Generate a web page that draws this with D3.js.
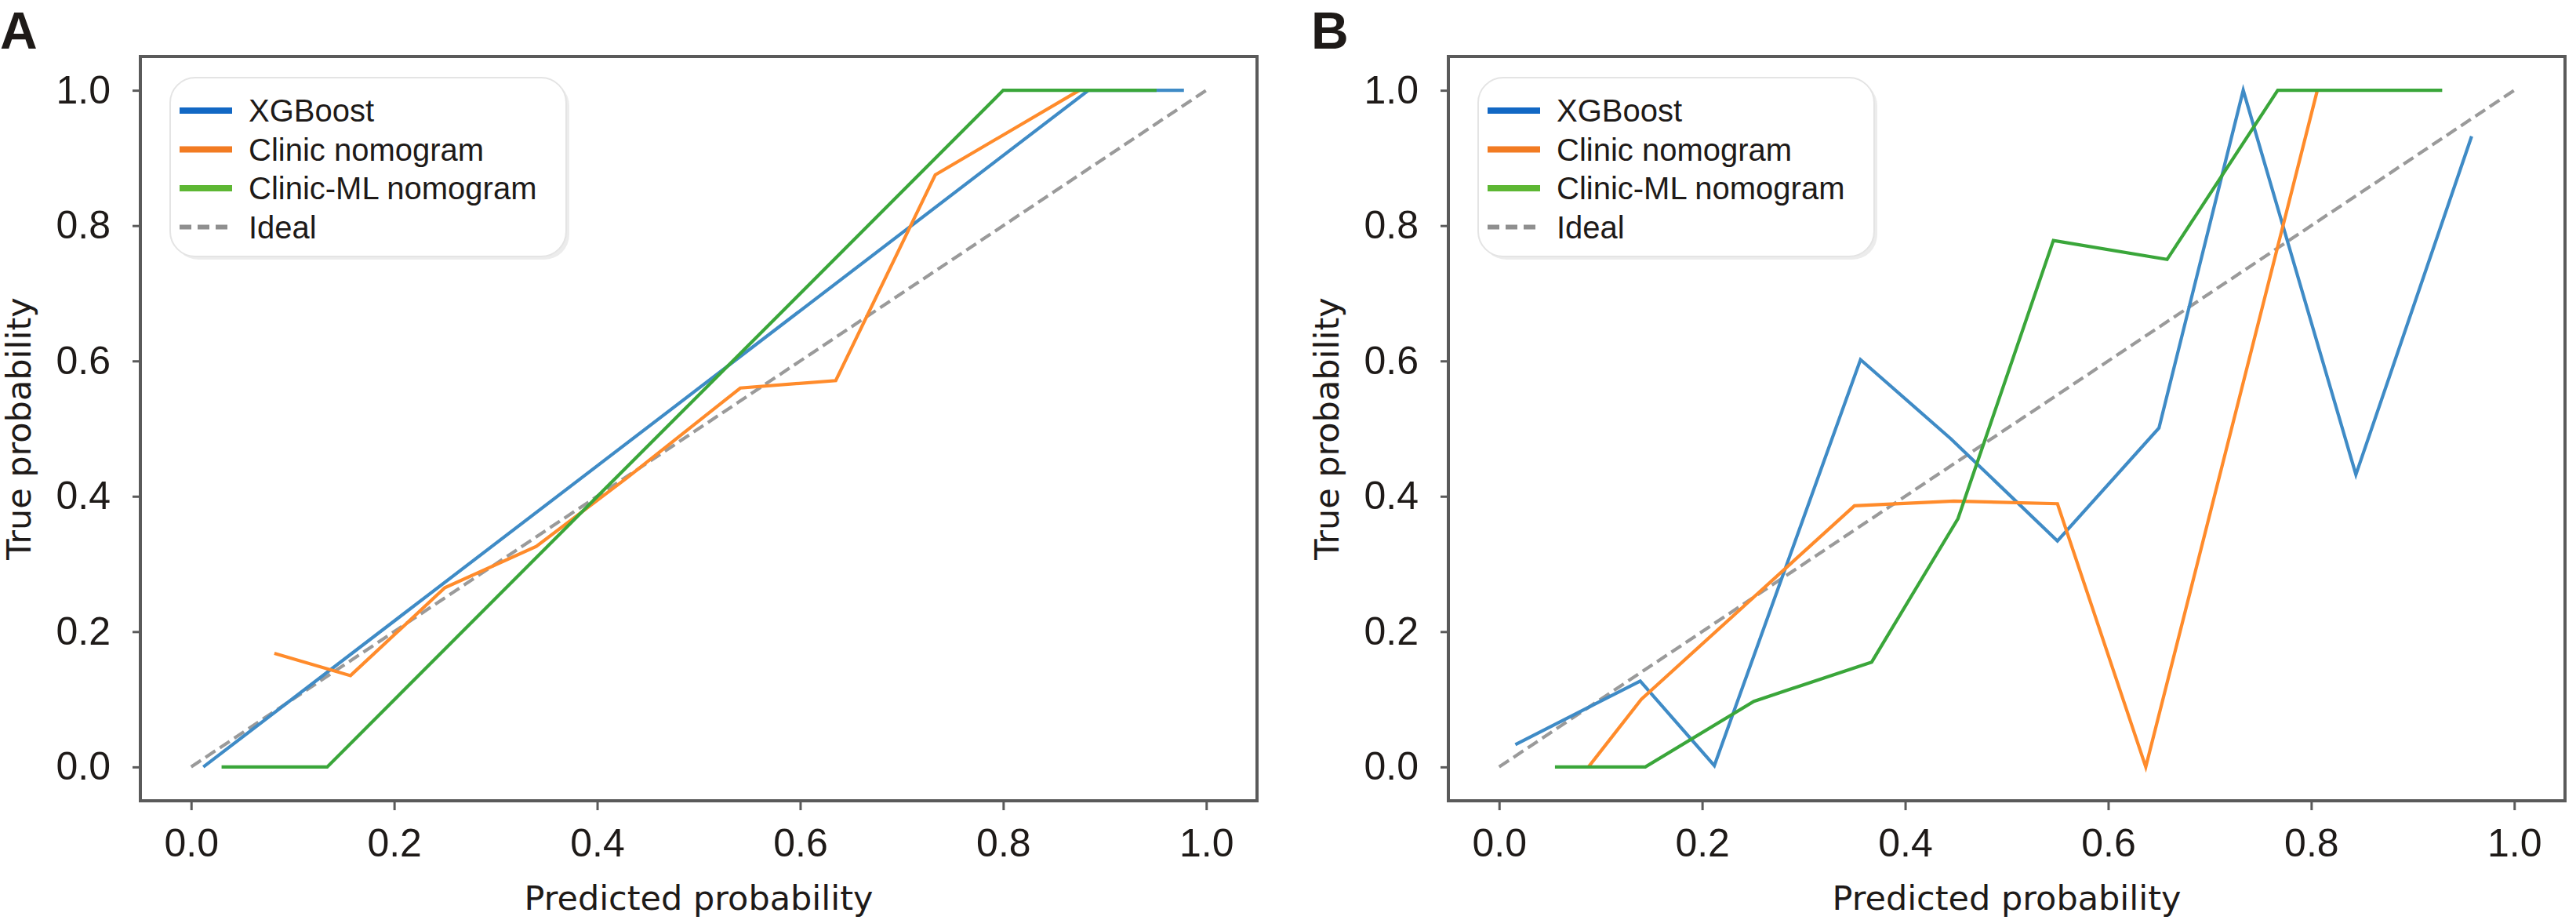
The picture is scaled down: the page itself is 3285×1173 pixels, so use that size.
<!DOCTYPE html>
<html>
<head>
<meta charset="utf-8">
<script src="https://cdn.jsdelivr.net/npm/d3@7"></script>
<style>
  body { margin: 0; background: #fff; }
  svg { display: block; }
</style>
</head>
<body>
<svg id="chart"></svg>
<script>
// calibration curves
const panels = ["A", "B"];
const seriesNames = ["XGBoost", "Clinic nomogram", "Clinic-ML nomogram"];
const ticks = [0, 0.2, 0.4, 0.6, 0.8, 1.0];

// panel A
const xgboostA = [[0.012, 0.0], [0.884, 1.0], [0.978, 1.0]];
const clinicA = [[0.082, 0.168], [0.157, 0.135], [0.25, 0.265], [0.34, 0.326], [0.43, 0.428],
    [0.541, 0.56], [0.635, 0.571], [0.733, 0.875], [0.875, 1.0]];
const clinicMlA = [[0.03, 0.0], [0.134, 0.0], [0.8, 1.0], [0.951, 1.0]];

// panel B
const xgboostB = [[0.016, 0.033], [0.139, 0.127], [0.212, 0.002], [0.356, 0.602], [0.445, 0.485],
    [0.55, 0.334], [0.65, 0.501], [0.733, 1.0], [0.844, 0.432], [0.958, 0.932]];
const clinicB = [[0.088, 0.0], [0.14, 0.1], [0.35, 0.386], [0.448, 0.393], [0.55, 0.389],
    [0.637, 0.0], [0.806, 1.0]];
const clinicMlB = [[0.055, 0.0], [0.144, 0.0], [0.251, 0.097], [0.367, 0.155], [0.452, 0.367],
    [0.546, 0.778], [0.658, 0.75], [0.767, 1.0], [0.929, 1.0]];

const ideal = [[0, 0], [1, 1]];

const panelSeries = [
    [xgboostA, clinicA, clinicMlA],
    [xgboostB, clinicB, clinicMlB]
];

const width = 3285;
const height = 1173;

const lineColors = ["#3f8bc6", "#ff8b2b", "#3aa63a"];
const legendColors = ["#1268c4", "#f27b22", "#5db733"];
const textColor = "#1e1a18";
const frameColor = "#5a5a5a";

const svg = d3.select("#chart")
    .attr("width", width)
    .attr("height", height);

svg.append("rect")
    .attr("width", width)
    .attr("height", height)
    .attr("fill", "#fff");

const axesLeft = [179, 1847];
const axesTop = 72;
const axesW = 1424;
const axesH = 949;

panels.forEach((label, p) => {
    const left = axesLeft[p];

    const x = d3.scaleLinear()
        .domain([-0.05, 1.05])
        .range([left, left + axesW]);
    const y = d3.scaleLinear()
        .domain([-0.05, 1.05])
        .range([axesTop + axesH, axesTop]);

    const g = svg.append("g");

    // ticks and labels
    const xAxis = g.append("g")
        .attr("transform", `translate(0,${axesTop + axesH})`)
        .call(d3.axisBottom(x).tickValues(ticks).tickFormat(d3.format(".1f")).tickSize(12).tickPadding(23));
    const yAxis = g.append("g")
        .attr("transform", `translate(${left},0)`)
        .call(d3.axisLeft(y).tickValues(ticks).tickFormat(d3.format(".1f")).tickSize(10).tickPadding(28));

    [xAxis, yAxis].forEach(ax => {
        ax.select(".domain").remove();
        ax.selectAll("line").attr("stroke", frameColor).attr("stroke-width", 3);
        ax.selectAll("text")
            .attr("fill", textColor)
            .style("font-family", "'Liberation Sans', Arial, sans-serif")
            .style("font-size", "50px");
    });

    // ideal diagonal
    const line = d3.line()
        .x(d => x(d[0]))
        .y(d => y(d[1]));

    g.append("path")
        .datum(ideal)
        .attr("d", line)
        .attr("fill", "none")
        .attr("stroke", "#9a9a9a")
        .attr("stroke-width", 4.2)
        .attr("stroke-dasharray", "15,7");

    panelSeries[p].forEach((s, i) => {
        g.append("path")
            .datum(s)
            .attr("d", line)
            .attr("fill", "none")
            .attr("stroke", lineColors[i])
            .attr("stroke-width", 4.2)
            .attr("stroke-linejoin", "miter");
    });

    // frame
    g.append("rect")
        .attr("x", left)
        .attr("y", axesTop)
        .attr("width", axesW)
        .attr("height", axesH)
        .attr("fill", "none")
        .attr("stroke", frameColor)
        .attr("stroke-width", 4);

    // legend
    const lx = left + 38;
    const ly = 99;
    const legend = g.append("g");
    legend.append("rect")
        .attr("x", lx + 4)
        .attr("y", ly + 4)
        .attr("width", 505)
        .attr("height", 228)
        .attr("rx", 32)
        .attr("fill", "#ececec");
    legend.append("rect")
        .attr("x", lx)
        .attr("y", ly)
        .attr("width", 505)
        .attr("height", 228)
        .attr("rx", 32)
        .attr("fill", "#fff")
        .attr("stroke", "#e4e4e4")
        .attr("stroke-width", 2);

    const entries = seriesNames.concat(["Ideal"]);
    entries.forEach((name, i) => {
        const cy = ly + 42 + i * 49.5;
        legend.append("line")
            .attr("x1", lx + 12)
            .attr("x2", lx + 79)
            .attr("y1", cy)
            .attr("y2", cy)
            .attr("stroke", i < 3 ? legendColors[i] : "#8f8f8f")
            .attr("stroke-width", i < 3 ? 8 : 6)
            .attr("stroke-dasharray", i < 3 ? null : "15,8");
        legend.append("text")
            .attr("x", lx + 100)
            .attr("y", cy + 14)
            .attr("fill", textColor)
            .style("font-family", "'Liberation Sans', Arial, sans-serif")
            .style("font-size", "40px")
            .text(name);
    });

    // axis titles
    g.append("text")
        .attr("x", left + axesW / 2)
        .attr("y", 1160)
        .attr("text-anchor", "middle")
        .attr("fill", textColor)
        .style("font-family", "'DejaVu Sans', Verdana, sans-serif")
        .style("font-size", "43px")
        .text("Predicted probability");

    g.append("text")
        .attr("transform", `translate(${left - 140},${axesTop + axesH / 2}) rotate(-90)`)
        .attr("text-anchor", "middle")
        .attr("fill", textColor)
        .style("font-family", "'DejaVu Sans', Verdana, sans-serif")
        .style("font-size", "43px")
        .text("True probability");

    // panel letter
    g.append("text")
        .attr("x", p === 0 ? 0 : 1672)
        .attr("y", 62)
        .attr("fill", textColor)
        .style("font-family", "'Liberation Sans', Arial, sans-serif")
        .style("font-weight", "bold")
        .style("font-size", "66px")
        .text(label);
});
</script>
</body>
</html>
